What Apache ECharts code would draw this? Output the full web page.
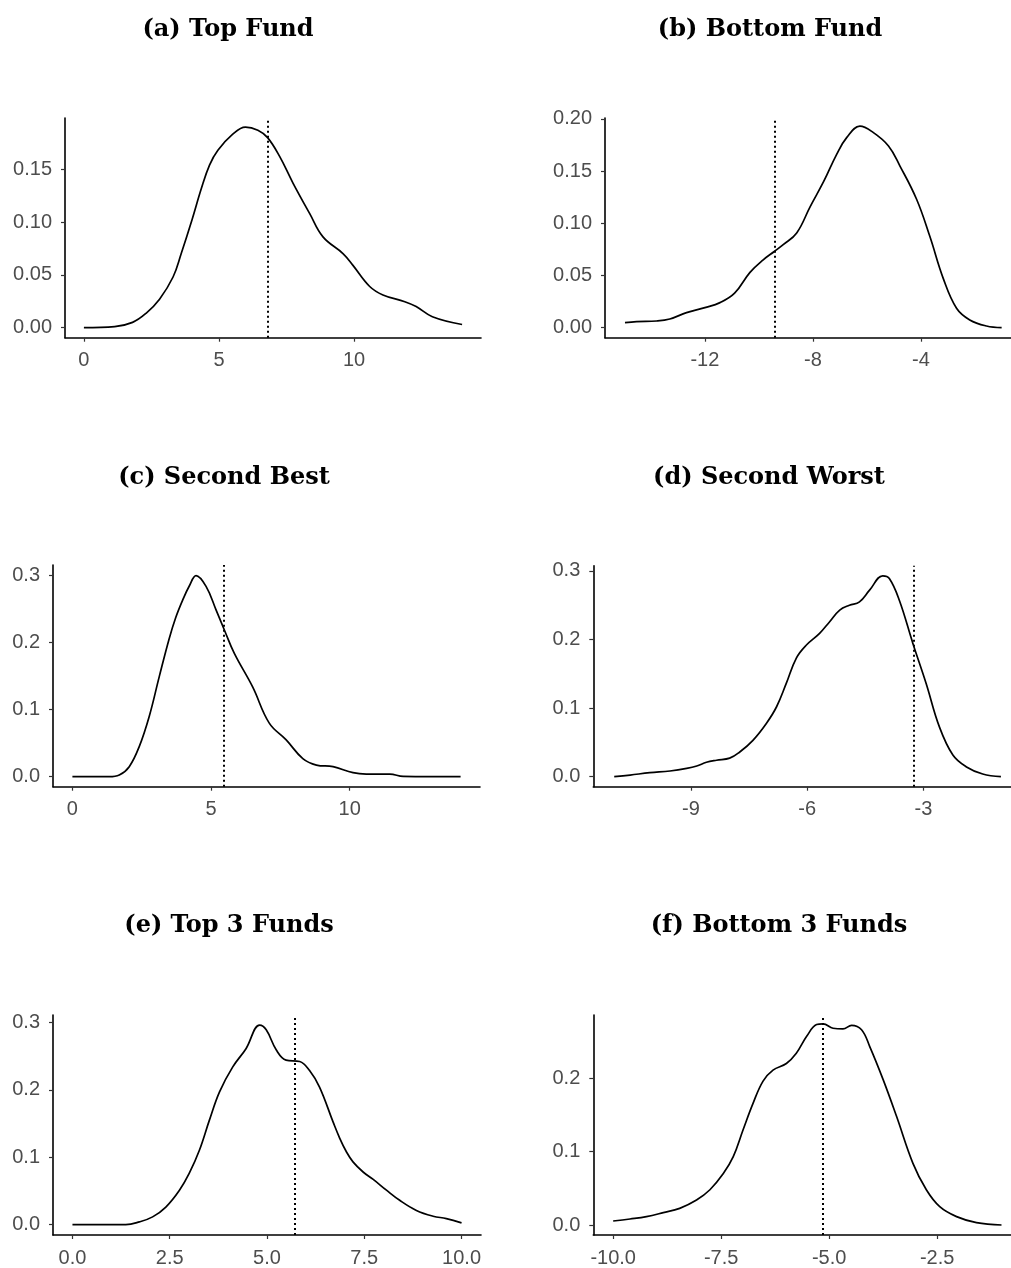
<!DOCTYPE html>
<html>
<head>
<meta charset="utf-8">
<script src="https://cdn.jsdelivr.net/npm/echarts@6/dist/echarts.min.js"></script>
<style>
html,body{margin:0;padding:0;background:#fff;}
#chart{width:1011px;height:1268px;}
</style>
</head>
<body>
<div id="chart"></div>
<script>
// ---- Data ----
const titles = ["(a) Top Fund", "(b) Bottom Fund", "(c) Second Best", "(d) Second Worst", "(e) Top 3 Funds", "(f) Bottom 3 Funds"];

const topFundX = [0, 1.14, 1.8, 2.3, 2.8, 3.3, 3.6, 4.0, 4.35, 4.65, 4.96, 5.5, 5.98, 6.44, 6.8, 7.25, 7.74, 8.36, 8.85, 9.6, 9.96, 10.58, 11.07, 11.88, 12.3, 12.9, 14.0];
const topFundY = [0, 0.001, 0.005, 0.0136, 0.027, 0.048, 0.070, 0.102, 0.132, 0.154, 0.168, 0.183, 0.19, 0.187, 0.180, 0.162, 0.137, 0.108, 0.086, 0.070, 0.059, 0.039, 0.031, 0.0246, 0.020, 0.0104, 0.003];

const bottomFundX = [-14.96, -14.53, -13.79, -13.3, -12.68, -12, -11.44, -10.9, -10.33, -9.84, -9.43, -9.1, -8.6, -8.1, -7.6, -7.12, -6.75, -6.26, -5.77, -5.2, -4.78, -4.16, -3.67, -3.17, -2.68, -2.19, -1.57, -1.01];
const bottomFundY = [0.0048, 0.0058, 0.0064, 0.0083, 0.0144, 0.0192, 0.024, 0.033, 0.053, 0.065, 0.073, 0.0795, 0.0907, 0.116, 0.140, 0.166, 0.182, 0.193, 0.187, 0.174, 0.155, 0.123, 0.0875, 0.047, 0.0186, 0.0074, 0.0016, 0];

const secondBestX = [0, 1.33, 1.69, 2.05, 2.41, 2.77, 3.13, 3.49, 3.73, 3.98, 4.22, 4.46, 4.82, 5.18, 5.48, 5.84, 6.5, 7.1, 7.71, 8.31, 8.8, 9.4, 10.12, 10.6, 11.45, 11.93, 14.0];
const secondBestY = [0, 0, 0.0025, 0.015, 0.045, 0.09, 0.149, 0.206, 0.238, 0.264, 0.285, 0.300, 0.284, 0.249, 0.219, 0.184, 0.134, 0.080, 0.055, 0.027, 0.0174, 0.015, 0.006, 0.004, 0.004, 0.0005, 0];

const secondWorstX = [-10.98, -10.57, -10.06, -9.54, -9.11, -8.85, -8.6, -8.34, -8.0, -7.74, -7.4, -7.05, -6.79, -6.54, -6.28, -6.02, -5.68, -5.42, -5.16, -4.91, -4.65, -4.39, -4.05, -3.88, -3.62, -3.27, -2.93, -2.59, -2.24, -1.9, -1.47, -1.0];
const secondWorstY = [0, 0.0024, 0.0058, 0.0083, 0.012, 0.0155, 0.021, 0.024, 0.027, 0.036, 0.053, 0.078, 0.102, 0.136, 0.173, 0.192, 0.209, 0.226, 0.243, 0.250, 0.255, 0.272, 0.293, 0.289, 0.257, 0.194, 0.136, 0.073, 0.0316, 0.0146, 0.0039, 0];

const top3X = [0, 1.37, 1.72, 2.06, 2.4, 2.75, 3.0, 3.26, 3.52, 3.78, 4.12, 4.46, 4.81, 4.98, 5.24, 5.49, 5.84, 6.09, 6.35, 6.7, 6.87, 7.04, 7.21, 7.47, 7.73, 8.07, 8.41, 8.84, 9.27, 9.61, 10.0];
const top3Y = [0, 0, 0.004, 0.0114, 0.026, 0.051, 0.076, 0.110, 0.155, 0.197, 0.234, 0.261, 0.296, 0.289, 0.259, 0.244, 0.242, 0.229, 0.204, 0.152, 0.128, 0.108, 0.093, 0.078, 0.067, 0.051, 0.036, 0.021, 0.0124, 0.0089, 0.0025];

const bottom3X = [-10, -9.61, -9.23, -8.84, -8.46, -8.07, -7.76, -7.45, -7.22, -6.99, -6.76, -6.53, -6.3, -5.99, -5.76, -5.52, -5.29, -5.14, -4.91, -4.68, -4.48, -4.25, -4.06, -3.75, -3.44, -3.06, -2.75, -2.44, -2.05, -1.59, -1.01];
const bottom3Y = [0.0055, 0.0082, 0.0114, 0.0168, 0.0227, 0.034, 0.048, 0.070, 0.093, 0.130, 0.166, 0.196, 0.211, 0.220, 0.234, 0.257, 0.273, 0.274, 0.268, 0.267, 0.272, 0.266, 0.243, 0.198, 0.148, 0.084, 0.048, 0.025, 0.0114, 0.0032, 0];

const vlines = [6.79, -9.43, 5.46, -3.26, 5.71, -5.15];

const xTicks = [[0, 5, 10], [-12, -8, -4], [0, 5, 10], [-9, -6, -3], [0, 2.5, 5, 7.5, 10], [-10, -7.5, -5, -2.5]];
const yTicks = [[0, 0.05, 0.10, 0.15], [0, 0.05, 0.10, 0.15, 0.20], [0, 0.1, 0.2, 0.3], [0, 0.1, 0.2, 0.3], [0, 0.1, 0.2, 0.3], [0, 0.1, 0.2]];
const xDecimals = [0, 0, 0, 0, 1, 1];
const yDecimals = [2, 2, 1, 1, 1, 1];

// ---- Layout (pixels) ----
const xRanges = [[-0.7, 14.7], [-15.7, -0.663], [-0.7, 14.7], [-11.52, -0.74], [-0.5, 10.5], [-10.46, -0.79]];
const yRanges = [[-0.0095, 0.1986], [-0.0096, 0.2008], [-0.0149, 0.316], [-0.0146, 0.3077], [-0.0155, 0.311], [-0.0136, 0.286]];
const grids = [
  {left: 65, top: 118, width: 416, height: 219.7},
  {left: 605, top: 118, width: 406, height: 219.7},
  {left: 53, top: 565, width: 427, height: 221.7},
  {left: 593.3, top: 565.7, width: 417.7, height: 221},
  {left: 53, top: 1015, width: 428, height: 220},
  {left: 593.3, top: 1015, width: 417.7, height: 220}
];
const titlePos = [[223, 13], [765, 13], [219, 461], [764, 461], [224, 909], [774, 909]];

const series = [[topFundX, topFundY], [bottomFundX, bottomFundY], [secondBestX, secondBestY], [secondWorstX, secondWorstY], [top3X, top3Y], [bottom3X, bottom3Y]];

const chart = echarts.init(document.getElementById('chart'), null, {renderer: 'canvas'});

const option = {
  animation: false,
  backgroundColor: '#ffffff',
  title: titles.map((t, i) => ({
    text: t,
    left: titlePos[i][0],
    top: titlePos[i][1],
    textAlign: 'center',
    textStyle: {fontFamily: 'DejaVu Serif', fontWeight: 'bold', fontSize: 24, color: '#000'}
  })),
  grid: grids.map(g => Object.assign({containLabel: false}, g)),
  xAxis: grids.map((g, i) => ({
    type: 'value',
    gridIndex: i,
    min: xRanges[i][0],
    max: xRanges[i][1],
    splitLine: {show: false},
    axisLine: {show: true, onZero: false, lineStyle: {color: '#000', width: 1.6}},
    axisTick: {show: true, customValues: xTicks[i], length: 4, lineStyle: {color: '#333', width: 1.2}},
    axisLabel: {customValues: xTicks[i], margin: 13, color: '#4d4d4d', fontSize: 20, fontFamily: 'Liberation Sans',
      formatter: v => Number(v).toFixed(xDecimals[i])}
  })),
  yAxis: grids.map((g, i) => ({
    type: 'value',
    gridIndex: i,
    min: yRanges[i][0],
    max: yRanges[i][1],
    splitLine: {show: false},
    axisLine: {show: true, onZero: false, lineStyle: {color: '#000', width: 1.6}},
    axisTick: {show: true, customValues: yTicks[i], length: 4, lineStyle: {color: '#333', width: 1.2}},
    axisLabel: {customValues: yTicks[i], margin: 13, color: '#4d4d4d', fontSize: 20, fontFamily: 'Liberation Sans',
      formatter: v => Number(v).toFixed(yDecimals[i])}
  })),
  series: series.map((s, i) => ({
    type: 'line',
    xAxisIndex: i,
    yAxisIndex: i,
    data: s[0].map((x, k) => [x, s[1][k]]),
    smooth: 0.4,
    showSymbol: false,
    symbol: 'none',
    lineStyle: {color: '#000', width: 1.7},
    markLine: {
      silent: true,
      symbol: ['none', 'none'],
      label: {show: false},
      lineStyle: {color: '#000', type: [2, 3], width: 2},
      data: [[{coord: [vlines[i], yRanges[i][0]]}, {coord: [vlines[i], yRanges[i][1]]}]]
    }
  }))
};
chart.setOption(option);
</script>
</body>
</html>
